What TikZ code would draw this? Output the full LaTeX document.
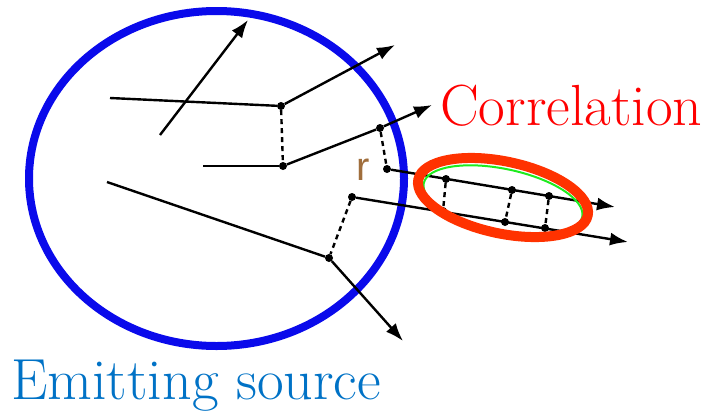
\documentclass[tikz,border=0pt]{standalone}
\usepackage{xcolor}
\usepackage{fontspec}
\newfontfamily\labelsans{Liberation Sans}
\usetikzlibrary{arrows.meta}

\definecolor{srcblue}{RGB}{10,10,235}
\definecolor{srctext}{RGB}{0,114,198}
\definecolor{corrred}{RGB}{255,50,0}
\definecolor{corrtext}{RGB}{255,0,0}
\definecolor{corrgreen}{RGB}{30,235,30}
\definecolor{rbrown}{RGB}{160,110,60}

\begin{document}
\begin{tikzpicture}[x=1pt, y=-1pt,
  dot/.style   ={circle, fill=black, inner sep=0pt, minimum size=8pt},
  track/.style ={line width=2.4pt, black},
  fly/.style   ={track, -{Latex[length=18pt, width=13pt]}},
  pair/.style  ={line width=2.4pt, black, dash pattern=on 5pt off 4pt},
  bigtext/.style={inner sep=0pt, anchor=base west, font=\fontsize{58}{60}\selectfont},
]
\useasboundingbox (0,0) rectangle (708,410);

% === Emitting source ===
\draw[srcblue, line width=8pt] (216.5,178.5) ellipse [x radius=187.5, y radius=167.5];

% === Free ends ===
\coordinate (a0) at (160,135);  \coordinate (a1) at (248,20);
\coordinate (b0) at (110,98);   \coordinate (b1) at (395,45);
\coordinate (c0) at (203,166);  \coordinate (c1) at (432,105);
\coordinate (d1) at (615,207);
\coordinate (e1) at (628,242);
\coordinate (f0) at (107,182);  \coordinate (f1) at (403,341);

% === Emission points ===
\node[dot] (nb)  at (281,106) {};
\node[dot] (nc)  at (283,166) {};
\node[dot] (nc2) at (380,128) {};
\node[dot] (nd)  at (387,169) {};
\node[dot] (ne)  at (352,197) {};
\node[dot] (nf)  at (329,258) {};

% === Tracks in the pair ===
\node[dot] (dA) at (446,179) {};
\node[dot] (dB) at (512,190) {};
\node[dot] (dC) at (549,196) {};
\node[dot] (eA) at (443,211) {};
\node[dot] (eB) at (505,222) {};
\node[dot] (eC) at (545,228) {};

% === Tracks ===
\draw[fly] (a0) -- (a1);
\draw[track] (b0) -- (nb);
\draw[fly] (nb) -- (b1);
\draw[track] (c0) -- (nc);
\draw[fly] (nc) -- (nc2) -- (c1);
\draw[fly] (nd) -- (d1);
\draw[fly] (ne) -- (e1);
\draw[track] (f0) -- (nf);
\draw[fly] (nf) -- (f1);

% === Separations ===
\draw[pair] (nb) -- (nc);
\draw[pair] (nc2) -- (nd);
\draw[pair] (ne) -- (nf);
\draw[pair] (dA) -- (eA);
\draw[pair] (dB) -- (eB);
\draw[pair] (dC) -- (eC);

% === Correlation region ===
\draw[corrgreen, line width=2pt, rotate around={-12:(503,200)}]
  (503,200) ellipse [x radius=81, y radius=31];
\draw[corrred, line width=10pt, rotate around={-12:(503,197.5)}]
  (503,197.5) ellipse [x radius=86.6, y radius=36];

% === Labels ===
\node[text=rbrown, font=\labelsans\fontsize{40}{40}\selectfont, inner sep=0pt,
  anchor=base] (rlab) at (363,180) {r};
\node[bigtext, text=corrtext] (corr) at (440,125) {Correlation};
\node[bigtext, text=srctext] (src) at (11,399) {Emitting source};

\end{tikzpicture}
\end{document}
